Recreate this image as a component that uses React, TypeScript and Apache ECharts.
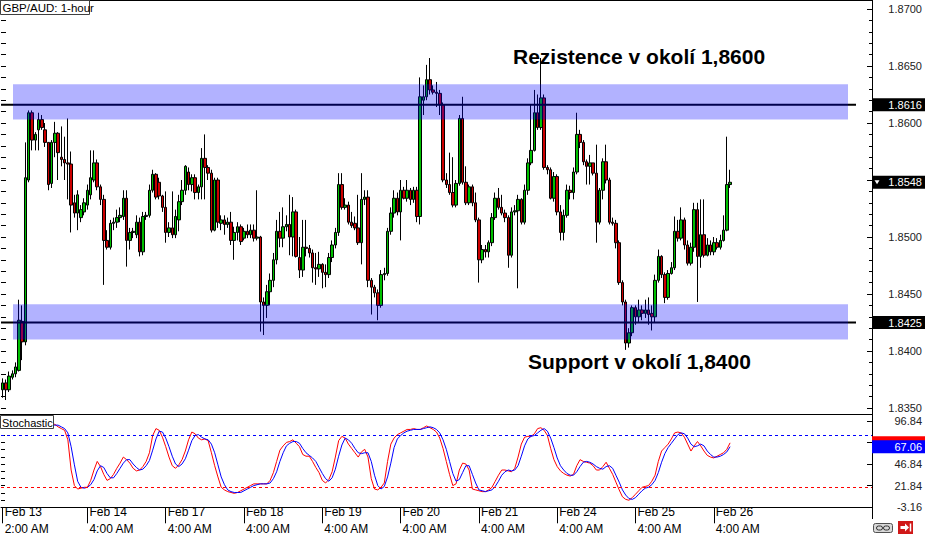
import React, { useEffect, useRef } from "react";
import * as echarts from "echarts";

// ---------- data ----------
const opens = [
  1.8366, 1.8372, 1.8366, 1.8377, 1.8380, 1.8383, 1.8426, 1.8408, 1.8550, 1.8609,
  1.8585, 1.8594, 1.8603, 1.8594, 1.8583, 1.8547, 1.8583, 1.8591, 1.8570, 1.8568,
  1.8565, 1.8564, 1.8530, 1.8521, 1.8517, 1.8522, 1.8528, 1.8537, 1.8550, 1.8565,
  1.8544, 1.8533, 1.8497, 1.8491, 1.8512, 1.8513, 1.8517, 1.8518, 1.8534, 1.8497,
  1.8504, 1.8502, 1.8513, 1.8487, 1.8518, 1.8519, 1.8541, 1.8555, 1.8548, 1.8536,
  1.8526, 1.8504, 1.8508, 1.8502, 1.8515, 1.8531, 1.8541, 1.8557, 1.8546, 1.8552,
  1.8539, 1.8544, 1.8569, 1.8561, 1.8556, 1.8506, 1.8550, 1.8512, 1.8515, 1.8511,
  1.8513, 1.8497, 1.8504, 1.8509, 1.8499, 1.8505, 1.8502, 1.8506, 1.8499, 1.8500,
  1.8443, 1.8440, 1.8452, 1.8462, 1.8480, 1.8505, 1.8499, 1.8509, 1.8511, 1.8500,
  1.8522, 1.8482, 1.8471, 1.8491, 1.8490, 1.8486, 1.8473, 1.8472, 1.8476, 1.8469,
  1.8467, 1.8482, 1.8493, 1.8504, 1.8546, 1.8526, 1.8528, 1.8513, 1.8512, 1.8508,
  1.8495, 1.8533, 1.8535, 1.8462, 1.8456, 1.8451, 1.8440, 1.8467, 1.8468, 1.8505,
  1.8521, 1.8534, 1.8522, 1.8541, 1.8534, 1.8541, 1.8533, 1.8541, 1.8518, 1.8620,
  1.8623, 1.8638, 1.8629, 1.8627, 1.8626, 1.8616, 1.8550, 1.8546, 1.8539, 1.8528,
  1.8547, 1.8604, 1.8548, 1.8530, 1.8544, 1.8530, 1.8515, 1.8480, 1.8489, 1.8487,
  1.8495, 1.8517, 1.8534, 1.8526, 1.8521, 1.8517, 1.8484, 1.8522, 1.8523, 1.8533,
  1.8513, 1.8541, 1.8565, 1.8576, 1.8609, 1.8596, 1.8622, 1.8561, 1.8559, 1.8534,
  1.8553, 1.8522, 1.8504, 1.8519, 1.8541, 1.8539, 1.8557, 1.8590, 1.8583, 1.8566,
  1.8562, 1.8565, 1.8556, 1.8513, 1.8541, 1.8566, 1.8550, 1.8513, 1.8512, 1.8495,
  1.8460, 1.8443, 1.8407, 1.8416, 1.8438, 1.8430, 1.8436, 1.8433, 1.8436, 1.8433,
  1.8430, 1.8462, 1.8483, 1.8467, 1.8447, 1.8468, 1.8473, 1.8505, 1.8499, 1.8515,
  1.8493, 1.8477, 1.8491, 1.8524, 1.8483, 1.8502, 1.8484, 1.8493, 1.8487, 1.8495,
  1.8491, 1.8497, 1.8506, 1.8546,
];
const closes = [
  1.8372, 1.8366, 1.8378, 1.8380, 1.8386, 1.8427, 1.8408, 1.8552, 1.8609, 1.8585,
  1.8590, 1.8603, 1.8596, 1.8583, 1.8546, 1.8583, 1.8591, 1.8574, 1.8568, 1.8565,
  1.8564, 1.8528, 1.8521, 1.8537, 1.8524, 1.8530, 1.8541, 1.8552, 1.8565, 1.8544,
  1.8533, 1.8497, 1.8491, 1.8512, 1.8513, 1.8517, 1.8519, 1.8534, 1.8497, 1.8504,
  1.8505, 1.8513, 1.8487, 1.8518, 1.8519, 1.8541, 1.8555, 1.8535, 1.8536, 1.8526,
  1.8504, 1.8508, 1.8502, 1.8518, 1.8531, 1.8541, 1.8562, 1.8546, 1.8552, 1.8539,
  1.8544, 1.8569, 1.8561, 1.8556, 1.8506, 1.8550, 1.8513, 1.8515, 1.8511, 1.8513,
  1.8497, 1.8504, 1.8509, 1.8496, 1.8505, 1.8502, 1.8506, 1.8499, 1.8500, 1.8443,
  1.8440, 1.8452, 1.8462, 1.8480, 1.8505, 1.8499, 1.8509, 1.8511, 1.8500, 1.8522,
  1.8483, 1.8471, 1.8491, 1.8490, 1.8486, 1.8473, 1.8472, 1.8476, 1.8469, 1.8467,
  1.8482, 1.8493, 1.8504, 1.8546, 1.8526, 1.8528, 1.8513, 1.8510, 1.8508, 1.8495,
  1.8533, 1.8535, 1.8462, 1.8456, 1.8451, 1.8440, 1.8467, 1.8468, 1.8505, 1.8521,
  1.8534, 1.8522, 1.8541, 1.8534, 1.8541, 1.8533, 1.8541, 1.8518, 1.8623, 1.8623,
  1.8638, 1.8629, 1.8627, 1.8626, 1.8616, 1.8550, 1.8546, 1.8539, 1.8528, 1.8547,
  1.8604, 1.8548, 1.8530, 1.8544, 1.8530, 1.8515, 1.8480, 1.8489, 1.8487, 1.8495,
  1.8517, 1.8534, 1.8526, 1.8521, 1.8517, 1.8484, 1.8522, 1.8523, 1.8533, 1.8513,
  1.8541, 1.8565, 1.8576, 1.8609, 1.8596, 1.8622, 1.8561, 1.8559, 1.8534, 1.8553,
  1.8522, 1.8504, 1.8519, 1.8541, 1.8539, 1.8557, 1.8590, 1.8583, 1.8566, 1.8562,
  1.8565, 1.8556, 1.8513, 1.8541, 1.8566, 1.8550, 1.8513, 1.8512, 1.8495, 1.8460,
  1.8443, 1.8407, 1.8416, 1.8438, 1.8430, 1.8436, 1.8433, 1.8436, 1.8432, 1.8430,
  1.8462, 1.8483, 1.8467, 1.8447, 1.8468, 1.8473, 1.8505, 1.8499, 1.8515, 1.8493,
  1.8477, 1.8491, 1.8524, 1.8483, 1.8502, 1.8484, 1.8493, 1.8487, 1.8495, 1.8491,
  1.8497, 1.8506, 1.8546, 1.8548,
];
const lows = [
  1.8359, 1.8357, 1.8364, 1.8375, 1.8377, 1.8382, 1.8392, 1.8405, 1.8548, 1.8576,
  1.8576, 1.8576, 1.8594, 1.8579, 1.8541, 1.8543, 1.8570, 1.8550, 1.8562, 1.8550,
  1.8533, 1.8504, 1.8517, 1.8506, 1.8513, 1.8519, 1.8524, 1.8533, 1.8548, 1.8541,
  1.8528, 1.8458, 1.8489, 1.8489, 1.8506, 1.8508, 1.8513, 1.8515, 1.8474, 1.8489,
  1.8499, 1.8499, 1.8483, 1.8484, 1.8515, 1.8517, 1.8539, 1.8533, 1.8533, 1.8522,
  1.8495, 1.8500, 1.8499, 1.8499, 1.8505, 1.8528, 1.8537, 1.8541, 1.8540, 1.8533,
  1.8533, 1.8533, 1.8533, 1.8550, 1.8504, 1.8505, 1.8508, 1.8506, 1.8502, 1.8508,
  1.8493, 1.8480, 1.8497, 1.8493, 1.8497, 1.8499, 1.8499, 1.8496, 1.8497, 1.8417,
  1.8414, 1.8429, 1.8440, 1.8456, 1.8476, 1.8491, 1.8491, 1.8505, 1.8484, 1.8483,
  1.8482, 1.8464, 1.8465, 1.8483, 1.8482, 1.8460, 1.8458, 1.8465, 1.8455, 1.8456,
  1.8464, 1.8478, 1.8490, 1.8501, 1.8524, 1.8524, 1.8511, 1.8508, 1.8506, 1.8493,
  1.8476, 1.8528, 1.8456, 1.8432, 1.8447, 1.8427, 1.8438, 1.8462, 1.8466, 1.8502,
  1.8517, 1.8519, 1.8497, 1.8533, 1.8531, 1.8528, 1.8530, 1.8513, 1.8511, 1.8607,
  1.8620, 1.8625, 1.8625, 1.8614, 1.8607, 1.8548, 1.8543, 1.8537, 1.8526, 1.8526,
  1.8545, 1.8546, 1.8528, 1.8528, 1.8527, 1.8513, 1.8460, 1.8477, 1.8482, 1.8482,
  1.8492, 1.8515, 1.8524, 1.8519, 1.8513, 1.8473, 1.8482, 1.8519, 1.8455, 1.8511,
  1.8511, 1.8537, 1.8563, 1.8575, 1.8594, 1.8594, 1.8559, 1.8555, 1.8533, 1.8531,
  1.8519, 1.8497, 1.8497, 1.8517, 1.8533, 1.8533, 1.8555, 1.8578, 1.8563, 1.8546,
  1.8546, 1.8554, 1.8495, 1.8511, 1.8533, 1.8547, 1.8511, 1.8510, 1.8490, 1.8458,
  1.8440, 1.8401, 1.8403, 1.8413, 1.8423, 1.8425, 1.8427, 1.8429, 1.8423, 1.8418,
  1.8425, 1.8460, 1.8464, 1.8442, 1.8445, 1.8467, 1.8471, 1.8496, 1.8497, 1.8489,
  1.8475, 1.8475, 1.8487, 1.8443, 1.8473, 1.8482, 1.8483, 1.8484, 1.8484, 1.8489,
  1.8489, 1.8496, 1.8505, 1.8543,
];
const highs = [
  1.8376, 1.8375, 1.8382, 1.8383, 1.8390, 1.8445, 1.8440, 1.8583, 1.8611, 1.8611,
  1.8592, 1.8609, 1.8607, 1.8600, 1.8583, 1.8585, 1.8601, 1.8592, 1.8597, 1.8588,
  1.8604, 1.8575, 1.8537, 1.8541, 1.8528, 1.8534, 1.8546, 1.8576, 1.8576, 1.8568,
  1.8546, 1.8537, 1.8506, 1.8515, 1.8517, 1.8524, 1.8526, 1.8541, 1.8541, 1.8508,
  1.8508, 1.8519, 1.8517, 1.8522, 1.8522, 1.8546, 1.8559, 1.8556, 1.8552, 1.8537,
  1.8540, 1.8513, 1.8540, 1.8524, 1.8537, 1.8550, 1.8563, 1.8561, 1.8555, 1.8555,
  1.8546, 1.8578, 1.8590, 1.8563, 1.8559, 1.8552, 1.8552, 1.8519, 1.8519, 1.8517,
  1.8522, 1.8509, 1.8513, 1.8511, 1.8508, 1.8511, 1.8511, 1.8511, 1.8541, 1.8501,
  1.8447, 1.8458, 1.8468, 1.8486, 1.8515, 1.8522, 1.8526, 1.8519, 1.8537, 1.8535,
  1.8524, 1.8500, 1.8515, 1.8515, 1.8493, 1.8489, 1.8486, 1.8487, 1.8477, 1.8476,
  1.8486, 1.8497, 1.8508, 1.8556, 1.8556, 1.8534, 1.8531, 1.8522, 1.8518, 1.8537,
  1.8556, 1.8541, 1.8541, 1.8464, 1.8458, 1.8454, 1.8471, 1.8473, 1.8508, 1.8526,
  1.8541, 1.8539, 1.8550, 1.8544, 1.8550, 1.8543, 1.8544, 1.8544, 1.8640, 1.8633,
  1.8651, 1.8657, 1.8633, 1.8636, 1.8629, 1.8618, 1.8556, 1.8574, 1.8570, 1.8550,
  1.8607, 1.8623, 1.8562, 1.8546, 1.8546, 1.8539, 1.8517, 1.8493, 1.8493, 1.8497,
  1.8521, 1.8539, 1.8543, 1.8537, 1.8524, 1.8519, 1.8526, 1.8528, 1.8537, 1.8534,
  1.8546, 1.8569, 1.8616, 1.8629, 1.8625, 1.8657, 1.8625, 1.8563, 1.8561, 1.8557,
  1.8555, 1.8528, 1.8524, 1.8546, 1.8545, 1.8561, 1.8609, 1.8594, 1.8585, 1.8568,
  1.8572, 1.8565, 1.8581, 1.8543, 1.8569, 1.8581, 1.8552, 1.8517, 1.8515, 1.8497,
  1.8462, 1.8445, 1.8420, 1.8440, 1.8440, 1.8445, 1.8440, 1.8445, 1.8447, 1.8440,
  1.8467, 1.8489, 1.8484, 1.8469, 1.8471, 1.8478, 1.8518, 1.8515, 1.8526, 1.8517,
  1.8497, 1.8495, 1.8530, 1.8530, 1.8533, 1.8533, 1.8499, 1.8497, 1.8500, 1.8499,
  1.8502, 1.8519, 1.8588, 1.8559,
];
const stochK = [
  97, 97, 96, 96, 95, 95, 94, 96, 97, 94,
  94, 95, 94, 93, 90, 92, 93, 90, 88, 86,
  75, 40, 22, 18, 19, 20, 20, 28, 40, 50,
  44, 35, 28, 30, 35, 42, 48, 55, 52, 48,
  42, 39, 40, 44, 50, 60, 80, 88, 86, 78,
  67, 55, 45, 42, 46, 52, 62, 75, 84, 82,
  77, 75, 76, 74, 60, 45, 32, 20, 17, 15,
  14, 13, 14, 16, 18, 20, 22, 24, 24, 24,
  24, 24, 28, 37, 50, 63, 68, 72, 73, 75,
  71, 67, 58, 56, 56, 50, 43, 37, 28, 25,
  29, 38, 55, 74, 79, 77, 70, 65, 60, 55,
  61, 64, 55, 30, 18, 17, 20, 25, 50, 70,
  77, 81, 83, 85, 87, 87, 88, 87, 87, 89,
  91, 89, 87, 84, 77, 65, 50, 35, 22, 24,
  40, 48, 47, 40, 18, 17, 16, 15, 15, 17,
  20, 27, 34, 40, 40, 39, 38, 42, 55, 70,
  78, 79, 79, 82, 88, 89, 86, 80, 65, 52,
  44, 39, 36, 34, 33, 35, 45, 52, 50, 49,
  48, 45, 40, 40, 44, 49, 42, 35, 26, 17,
  9, 6, 5, 8, 12, 16, 20, 21, 22, 27,
  34, 50, 62, 66, 70, 76, 83, 84, 83, 78,
  70, 62, 68, 73, 68, 62, 57, 55, 54, 56,
  58, 60, 64, 71.47,
];
const stochD = [
  96, 97, 97, 96, 96, 95, 95, 95, 96, 96,
  95, 94, 94, 94, 92, 92, 92, 92, 90, 88,
  83, 67, 46, 27, 20, 19, 20, 23, 29, 39,
  45, 43, 36, 31, 31, 36, 42, 48, 52, 52,
  47, 43, 40, 41, 45, 51, 63, 76, 85, 84,
  77, 67, 56, 47, 44, 47, 53, 63, 74, 80,
  81, 78, 76, 75, 70, 60, 46, 32, 23, 17,
  15, 14, 14, 14, 16, 18, 20, 22, 23, 24,
  24, 24, 25, 30, 38, 50, 60, 68, 71, 73,
  73, 71, 65, 60, 57, 54, 50, 43, 36, 30,
  27, 31, 41, 56, 69, 77, 75, 71, 65, 60,
  59, 60, 60, 50, 34, 22, 18, 21, 32, 48,
  66, 76, 80, 83, 85, 86, 87, 87, 87, 88,
  89, 90, 89, 87, 83, 75, 64, 50, 36, 27,
  29, 37, 45, 45, 35, 25, 17, 16, 15, 16,
  17, 21, 27, 34, 38, 40, 39, 40, 45, 56,
  68, 76, 79, 80, 83, 86, 88, 85, 77, 66,
  54, 45, 40, 36, 34, 34, 38, 44, 49, 50,
  49, 47, 44, 42, 41, 44, 45, 42, 34, 26,
  17, 11, 7, 6, 8, 12, 16, 19, 20, 23,
  28, 37, 49, 59, 66, 71, 76, 81, 83, 82,
  77, 70, 67, 68, 70, 68, 62, 58, 55, 55,
  56, 58, 61, 67.06,
];
const levelLines = [1.8616, 1.8425];
const zones = [
  [1.8603, 1.8634],
  [1.841, 1.8441],
];
const notes = ["Rezistence v okolí 1,8600", "Support v okolí 1,8400"];
const stochLevels = [80, 20];
const dayLabels = ["Feb 13", "Feb 14", "Feb 17", "Feb 18", "Feb 19", "Feb 20", "Feb 21", "Feb 24", "Feb 25", "Feb 26"];
const timeLabels = ["2:00 AM", "4:00 AM", "4:00 AM", "4:00 AM", "4:00 AM", "4:00 AM", "4:00 AM", "4:00 AM", "4:00 AM", "4:00 AM"];
const title = "GBP/AUD: 1-hour";
const stochTitle = "Stochastic";

// ---------- categories (hourly bars, weekends skipped) ----------
const MONTHS = ["Jan", "Feb", "Mar", "Apr", "May", "Jun", "Jul", "Aug", "Sep", "Oct", "Nov", "Dec"];
const SLOTS = 267;
function buildCategories(n: number): string[] {
  const out: string[] = [];
  const d = new Date(Date.UTC(2014, 1, 13, 2));
  while (out.length < n) {
    const wd = d.getUTCDay();
    if (wd !== 0 && wd !== 6) {
      const h = d.getUTCHours();
      const h12 = h % 12 === 0 ? 12 : h % 12;
      out.push(`${MONTHS[d.getUTCMonth()]} ${d.getUTCDate()}|${h12}:00 ${h < 12 ? "AM" : "PM"}`);
    }
    d.setUTCHours(d.getUTCHours() + 1);
  }
  return out;
}
const categories = buildCategories(SLOTS);
const tickSet = new Set(dayLabels.map((d, i) => `${d}|${timeLabels[i]}`));

const FONT = '"Liberation Sans", Arial, Helvetica, sans-serif';
const STOCH_SPAN = 325 / 3;

function buildOption(): any {
  const candleData = opens.map((o, i) => [o, closes[i], lows[i], highs[i]]);
  const showTick = (_i: number, v: string) => tickSet.has(v);
  const lastClose = closes[closes.length - 1];
  const lastD = stochD[stochD.length - 1];
  return {
    animation: false,
    backgroundColor: "#ffffff",
    textStyle: { fontFamily: FONT },
    grid: [
      { left: 1, top: 9, width: 871, height: 399 },
      { left: 1, top: 413.75, width: 871, height: 94.55 },
    ],
    xAxis: [
      { type: "category", gridIndex: 0, data: categories, show: false, boundaryGap: true },
      {
        type: "category",
        gridIndex: 1,
        data: categories,
        position: "bottom",
        boundaryGap: true,
        axisLine: { show: false },
        axisTick: { show: false },
        splitLine: { show: false },
        axisLabel: {
          interval: showTick,
          formatter: (v: string) => v.split("|")[0],
          align: "left",
          verticalAlign: "middle",
          margin: 5,
          padding: [0, 0, 0, 2],
          color: "#000",
          fontSize: 12,
          fontFamily: FONT,
        },
      },
      {
        type: "category",
        gridIndex: 1,
        data: categories,
        position: "bottom",
        offset: 10.7,
        boundaryGap: true,
        axisLine: { show: true, lineStyle: { color: "#000", width: 1 } },
        axisTick: { show: true, interval: showTick, alignWithLabel: true, length: 16, lineStyle: { color: "#000", width: 1 } },
        splitLine: { show: false },
        axisLabel: {
          interval: showTick,
          formatter: (v: string) => v.split("|")[1],
          align: "left",
          verticalAlign: "middle",
          margin: 11,
          padding: [0, 0, 0, 2],
          color: "#000",
          fontSize: 12,
          fontFamily: FONT,
        },
      },
    ],
    yAxis: [
      {
        type: "value",
        gridIndex: 0,
        position: "right",
        min: 1.835,
        max: 1.87,
        interval: 0.005,
        axisLine: { show: false },
        axisTick: { show: true, inside: true, length: 5, lineStyle: { color: "#000" } },
        minorTick: { show: true, splitNumber: 5, length: 3, lineStyle: { color: "#000" } },
        splitLine: { show: false },
        minorSplitLine: { show: false },
        axisLabel: {
          // the label hidden under the current-price box in the reference is left out
          formatter: (v: number) => (Math.abs(v - lastClose) < 0.0006 ? "" : v.toFixed(4)),
          align: "right",
          margin: 50,
          color: "#222",
          fontSize: 11,
          fontFamily: FONT,
        },
      },
      {
        type: "value",
        gridIndex: 0,
        position: "left",
        min: 1.835,
        max: 1.87,
        interval: 0.001,
        axisLine: { show: false },
        axisTick: { show: true, inside: true, length: 5, lineStyle: { color: "#000" } },
        axisLabel: { show: false },
        splitLine: { show: false },
      },
      { type: "value", gridIndex: 1, position: "left", min: -3.16, max: STOCH_SPAN - 3.16, show: false, splitLine: { show: false } },
      {
        type: "value",
        gridIndex: 1,
        position: "right",
        min: 0,
        max: STOCH_SPAN,
        interval: 25,
        axisLine: { show: false },
        axisTick: { show: true, inside: true, length: 5, lineStyle: { color: "#000" } },
        splitLine: { show: false },
        axisLabel: {
          showMaxLabel: false,
          formatter: (v: number) => {
            const real = v - 3.16;
            if (v > 101) return "";
            if (Math.abs(real - lastD) < 8) return "";
            return real.toFixed(2);
          },
          align: "right",
          margin: 50,
          color: "#222",
          fontSize: 11,
          fontFamily: FONT,
        },
      },
      {
        type: "value",
        gridIndex: 1,
        position: "left",
        min: 0,
        max: STOCH_SPAN,
        interval: 25 / 3,
        axisLine: { show: false },
        axisTick: { show: true, inside: true, length: 4, lineStyle: { color: "#000" } },
        axisLabel: { show: false },
        splitLine: { show: false },
      },
    ],
    series: [
      {
        type: "candlestick",
        xAxisIndex: 0,
        yAxisIndex: 0,
        data: candleData,
        barWidth: 3,
        emphasis: { disabled: true },
        itemStyle: {
          color: "#00c000",
          color0: "#cc0000",
          borderColor: "#000000",
          borderColor0: "#000000",
          borderColorDoji: "#000000",
          borderWidth: 1,
        },
      },
      {
        type: "line",
        name: "%K",
        xAxisIndex: 1,
        yAxisIndex: 2,
        data: stochK,
        showSymbol: false,
        symbol: "none",
        lineStyle: { color: "#ff0000", width: 1 },
        emphasis: { disabled: true },
        markLine: {
          silent: true,
          symbol: ["none", "none"],
          label: { show: false },
          lineStyle: { color: "#ff0000", type: [3, 3], width: 1 },
          data: [{ yAxis: stochLevels[1] }],
        },
      },
      {
        type: "line",
        name: "%D",
        xAxisIndex: 1,
        yAxisIndex: 2,
        data: stochD,
        showSymbol: false,
        symbol: "none",
        lineStyle: { color: "#0000ff", width: 1 },
        emphasis: { disabled: true },
        markLine: {
          silent: true,
          symbol: ["none", "none"],
          label: { show: false },
          lineStyle: { color: "#0000ff", type: [3, 3], width: 1 },
          data: [{ yAxis: stochLevels[0] }],
        },
      },
    ],
  };
}

function buildGraphic(chart: any): any[] {
  const py = (v: number) => chart.convertToPixel({ yAxisIndex: 0 }, v) as number;
  const sy = (v: number) => chart.convertToPixel({ yAxisIndex: 2 }, v) as number;
  const els: any[] = [];
  // frame
  els.push({ type: "line", z: 50, shape: { x1: 0, y1: 0.5, x2: 872, y2: 0.5 }, style: { stroke: "#000", lineWidth: 1 } });
  els.push({ type: "line", z: 50, shape: { x1: 0, y1: 414.5, x2: 872, y2: 414.5 }, style: { stroke: "#000", lineWidth: 1 } });
  els.push({ type: "line", z: 50, shape: { x1: 872.5, y1: 0, x2: 872.5, y2: 519 }, style: { stroke: "#000", lineWidth: 1 } });
  // support / resistance lines
  levelLines.forEach((l) => {
    const y = py(l);
    els.push({ type: "line", z: 60, shape: { x1: 1, y1: y, x2: 856, y2: y }, style: { stroke: "#000", lineWidth: 2 } });
  });
  // zones
  zones.forEach(([lo, hi]) => {
    const t = py(hi);
    const b = py(lo);
    els.push({ type: "rect", z: 61, shape: { x: 13, y: t, width: 835, height: b - t }, style: { fill: "rgba(0,0,255,0.3)" } });
  });
  // notes
  els.push({
    type: "text", z: 70, x: 513, y: 56,
    style: { text: notes[0], font: `bold 21px ${FONT}`, fill: "#000", align: "left", verticalAlign: "middle" },
  });
  els.push({
    type: "text", z: 70, x: 528, y: 361,
    style: { text: notes[1], font: `bold 21px ${FONT}`, fill: "#000", align: "left", verticalAlign: "middle" },
  });
  // price boxes
  const lastClose = closes[closes.length - 1];
  [...levelLines, lastClose].forEach((v, i) => {
    const y = py(v);
    els.push({ type: "rect", z: 80, shape: { x: 872, y: y - 6.5, width: 53, height: 13 }, style: { fill: "#000" } });
    els.push({
      type: "text", z: 81, x: 922, y: y,
      style: { text: v.toFixed(4), font: `11px ${FONT}`, fill: "#fff", align: "right", verticalAlign: "middle" },
    });
    if (i === levelLines.length) {
      els.push({ type: "polygon", z: 81, shape: { points: [[874.5, y - 2], [879.5, y - 2], [877, y + 2]] }, style: { fill: "#fff" } });
    }
  });
  // stochastic boxes (the %K box sits mostly under the %D box, as in the reference)
  const kLast = stochK[stochK.length - 1];
  const dLast = stochD[stochD.length - 1];
  const ky = sy(kLast);
  const dy = sy(dLast);
  els.push({ type: "rect", z: 80, shape: { x: 872, y: ky - 6.5, width: 53, height: 13 }, style: { fill: "#ff0000" } });
  els.push({ type: "rect", z: 82, shape: { x: 872, y: dy - 6.5, width: 53, height: 13 }, style: { fill: "#0000ff" } });
  els.push({ type: "text", z: 83, x: 922, y: dy, style: { text: dLast.toFixed(2), font: `11px ${FONT}`, fill: "#fff", align: "right", verticalAlign: "middle" } });
  // title boxes
  els.push({ type: "rect", z: 90, shape: { x: 0.5, y: 0.5, width: 89, height: 14 }, style: { fill: "#fff", stroke: "#404040", lineWidth: 1 } });
  els.push({ type: "text", z: 91, x: 2.5, y: 8, style: { text: title, font: `11.5px ${FONT}`, fill: "#000", verticalAlign: "middle" } });
  els.push({ type: "rect", z: 90, shape: { x: 0.5, y: 415.5, width: 53, height: 13 }, style: { fill: "#fff", stroke: "#404040", lineWidth: 1 } });
  els.push({ type: "text", z: 91, x: 2, y: 422.5, style: { text: stochTitle, font: `11px ${FONT}`, fill: "#000", verticalAlign: "middle" } });
  // bottom-right icons
  els.push({ type: "rect", z: 90, shape: { x: 873.5, y: 523.5, width: 19, height: 9, r: 2 }, style: { fill: "#d8d8d8", stroke: "#505050", lineWidth: 1 } });
  els.push({ type: "rect", z: 91, shape: { x: 876.5, y: 526, width: 6, height: 4, r: 2 }, style: { fill: "none", stroke: "#303030", lineWidth: 1 } });
  els.push({ type: "rect", z: 91, shape: { x: 883.5, y: 526, width: 6, height: 4, r: 2 }, style: { fill: "none", stroke: "#303030", lineWidth: 1 } });
  els.push({ type: "rect", z: 90, shape: { x: 898, y: 521, width: 15, height: 13 }, style: { fill: "#d01818" } });
  els.push({
    type: "polygon", z: 91,
    shape: { points: [[900.5, 526], [905, 526], [905, 523.5], [909, 527.5], [905, 531.5], [905, 529], [900.5, 529]] },
    style: { fill: "#fff" },
  });
  els.push({ type: "line", z: 91, shape: { x1: 910.5, y1: 523.5, x2: 910.5, y2: 531.5 }, style: { stroke: "#fff", lineWidth: 1.5 } });
  return els;
}

export default function App() {
  const ref = useRef<HTMLDivElement>(null);
  useEffect(() => {
    if (!ref.current) return;
    const chart = echarts.init(ref.current, null, { renderer: "svg" });
    chart.setOption(buildOption());
    chart.setOption({ graphic: buildGraphic(chart) });
    return () => chart.dispose();
  }, []);
  return (
    <div
      ref={ref}
      style={{ position: "fixed", left: 0, top: 0, width: 925, height: 535, background: "#fff" }}
    />
  );
}
